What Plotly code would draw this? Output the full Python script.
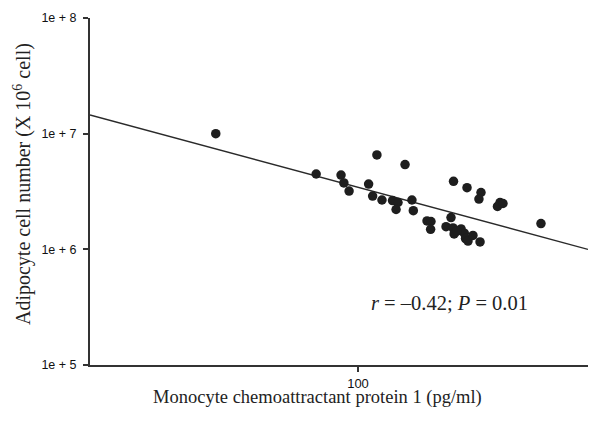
import plotly.graph_objects as go

# MCP-1 (pg/ml) and adipocyte cell number
mcp1 = [44.1, 78.6, 90.7, 92.2, 95.0, 111.5, 106.3, 108.8, 114.8, 122.0,
        125.9, 124.5, 131.1, 136.4, 137.5, 173.3, 187.3, 203.0, 200.6, 226.5,
        223.2, 230.4, 148.8, 152.2, 151.9, 170.8, 166.0, 172.8, 173.9, 181.0,
        184.4, 185.7, 188.4, 193.8, 201.9, 286.7, 176.8]
cells = [1.00e7, 4.48e6, 4.39e6, 3.75e6, 3.19e6, 6.55e6, 3.67e6, 2.89e6, 2.67e6, 2.64e6,
         2.54e6, 2.21e6, 5.41e6, 2.67e6, 2.16e6, 3.87e6, 3.41e6, 3.10e6, 2.72e6, 2.54e6,
         2.35e6, 2.49e6, 1.76e6, 1.74e6, 1.49e6, 1.88e6, 1.57e6, 1.53e6, 1.36e6, 1.50e6,
         1.38e6, 1.24e6, 1.18e6, 1.32e6, 1.16e6, 1.67e6, 1.44e6]

# regression line end points
fit_x = [21.38, 375.8]
fit_y = [1.45e7, 1.0e6]

y_tickvals = [1e5, 1e6, 1e7, 1e8]
y_ticktext = ["1e + 5", "1e + 6", "1e + 7", "1e + 8"]
x_tickvals = [100]
x_ticktext = ["100"]

x_title = "Monocyte chemoattractant protein 1 (pg/ml)"
y_title = "Adipocyte cell number (X 10<sup>6</sup> cell)"
stat_text = "<i>r</i> = \u20130.42; <i>P</i> = 0.01"

serif = "Liberation Serif, Times New Roman, serif"
sans = "Liberation Sans, Arial, sans-serif"

fig = go.Figure()
fig.add_trace(go.Scatter(x=fit_x, y=fit_y, mode="lines",
                         line=dict(color="#2a2a2a", width=1.3), hoverinfo="skip"))
fig.add_trace(go.Scatter(x=mcp1, y=cells, mode="markers",
                         marker=dict(color="#1e1e1e", size=9.5)))

# page body has an 8px margin, so the figure is 8px smaller than the window
fig.update_layout(
    width=593, height=414,
    margin=dict(l=82, r=13, t=10, b=57),
    paper_bgcolor="white", plot_bgcolor="white",
    showlegend=False,
    font=dict(family=sans, color="#111"),
)
fig.update_xaxes(type="log", range=[1.33, 2.575], automargin=False,
                 tickvals=x_tickvals, ticktext=x_ticktext,
                 showgrid=False, zeroline=False,
                 showline=True, linecolor="#333", linewidth=2,
                 ticks="outside", ticklen=5, tickwidth=1.5, tickcolor="#333",
                 ticklabelstandoff=0,
                 tickfont=dict(size=13, family=sans, color="#111"))
fig.update_yaxes(type="log", range=[5, 8], automargin=False,
                 tickvals=y_tickvals, ticktext=y_ticktext,
                 showgrid=False, zeroline=False,
                 showline=True, linecolor="#333", linewidth=2,
                 ticks="outside", ticklen=5, tickwidth=1.5, tickcolor="#333",
                 ticklabelstandoff=4,
                 tickfont=dict(size=12.5, family=sans, color="#111"))
fig.add_annotation(xref="paper", yref="paper", x=0.457, y=-0.0935,
                   xanchor="center", yanchor="middle", text=x_title, showarrow=False,
                   font=dict(family=serif, size=18.5, color="#222"))
fig.add_annotation(xref="paper", yref="paper", x=-0.1365, y=0.5216,
                   xanchor="center", yanchor="middle", textangle=-90,
                   text=y_title, showarrow=False,
                   font=dict(family=serif, size=20, color="#222"))
fig.add_annotation(xref="paper", yref="paper", x=0.7209, y=0.179,
                   xanchor="center", yanchor="middle",
                   text=stat_text, showarrow=False,
                   font=dict(family=serif, size=20.5, color="#222"))

fig.write_html("out.html")
